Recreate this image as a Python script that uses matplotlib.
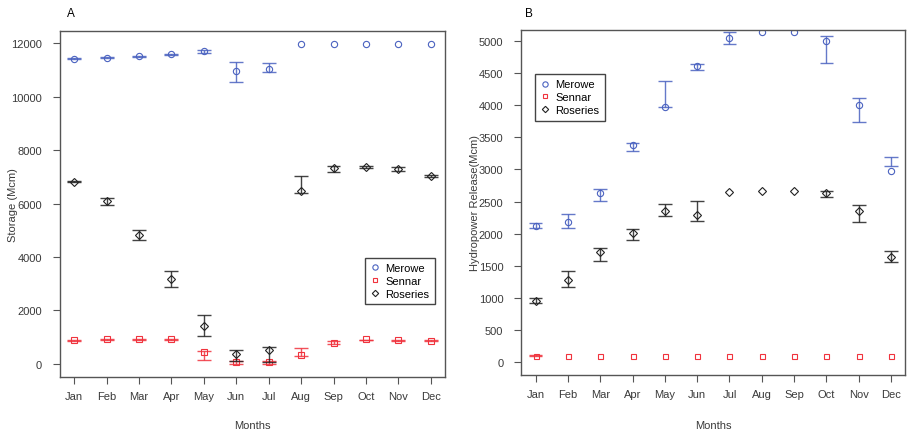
import numpy as np
import matplotlib
matplotlib.use('Agg')
import matplotlib.pyplot as plt

plt.rcParams['font.family'] = ['Liberation Sans', 'DejaVu Sans']

nan = np.nan
months = ['Jan', 'Feb', 'Mar', 'Apr', 'May', 'Jun', 'Jul', 'Aug', 'Sep', 'Oct', 'Nov', 'Dec']

# Panel A - storage (Mcm)
merowe_st = [11430, 11470, 11515, 11600, 11700, 10970, 11040, 11990, 11990, 11990, 11990, 11990]
merowe_st_lo = [11410, 11450, 11500, 11580, 11660, 10570, 10920, nan, nan, nan, nan, nan]
merowe_st_hi = [11450, 11490, 11530, 11620, 11740, 11300, 11265, nan, nan, nan, nan, nan]

sennar_st = [880, 906, 917, 917, 419, 45, 45, 330, 770, 930, 869, 854]
sennar_st_lo = [860, 890, 900, 900, 131, -10, -10, 270, 750, 880, 855, 835]
sennar_st_hi = [900, 920, 935, 935, 479, 105, 105, 569, 850, 900, 885, 875]

roseries_st = [6823, 6112, 4838, 3176, 1404, 356, 517, 6480, 7350, 7370, 7310, 7040]
roseries_st_lo = [6800, 5965, 4625, 2890, 1020, 94, 67, 6410, 7180, 7330, 7210, 7000]
roseries_st_hi = [6840, 6190, 5026, 3490, 1842, 517, 629, 7050, 7400, 7410, 7360, 7080]

# Panel B - hydropower release (Mcm)
merowe_rl = [2122, 2175, 2632, 3385, 3978, 4613, 5045, 5139, 5139, 5003, 4004, 2980]
merowe_rl_lo = [2081, 2081, 2502, 3282, 3969, 4551, 4956, nan, nan, 4664, 3735, 3048]
merowe_rl_hi = [2159, 2299, 2689, 3416, 4374, 4639, 5148, nan, nan, 5076, 4114, 3198]

sennar_rl = [95, 95, 95, 95, 95, 95, 95, 95, 95, 95, 95, 95]
sennar_rl_lo = [88, nan, nan, nan, nan, nan, nan, nan, nan, nan, nan, nan]
sennar_rl_hi = [102, nan, nan, nan, nan, nan, nan, nan, nan, nan, nan, nan]

roseries_rl = [942, 1279, 1707, 2003, 2351, 2289, 2652, 2657, 2657, 2632, 2351, 1629]
roseries_rl_lo = [911, 1161, 1566, 1898, 2278, 2190, nan, nan, nan, 2569, 2179, 1551]
roseries_rl_hi = [998, 1410, 1769, 2075, 2455, 2502, nan, nan, nan, 2658, 2440, 1727]

blue = '#4a62c0'
red = '#f0333d'
black = '#222222'
frame = '#555555'
x = np.arange(1, 13)


def bars(ax, mean, lo, hi, col, mk, ms, label):
    lo = np.array(lo, dtype=float)
    hi = np.array(hi, dtype=float)
    ok = ~np.isnan(lo)
    ax.vlines(x[ok], lo[ok], hi[ok], color=col, lw=1, alpha=0.85)
    ax.hlines(lo[ok], x[ok] - 0.215, x[ok] + 0.215, color=col, lw=1, alpha=0.85)
    ax.hlines(hi[ok], x[ok] - 0.215, x[ok] + 0.215, color=col, lw=1, alpha=0.85)
    ax.plot(x, mean, ls='none', marker=mk, ms=ms, mfc='none', mec=col, mew=0.8, label=label)


def style(ax, ylabel, ylab_x, xlab_y):
    ax.set_xlim(0.56, 12.44)
    ax.set_xticks(x)
    ax.set_xticklabels(months)
    for s in ax.spines.values():
        s.set_color(frame)
        s.set_linewidth(1)
    ax.tick_params(axis='x', length=5, width=0.8, color=frame, pad=5, labelsize=8, labelcolor='#3a3a3a')
    ax.tick_params(axis='y', length=5, width=0.8, color=frame, pad=8, labelsize=8, labelcolor='#3a3a3a')
    ax.set_xlabel('Months', fontsize=8, color='#3a3a3a')
    ax.set_ylabel(ylabel, fontsize=8, color='#3a3a3a')
    ax.xaxis.set_label_coords(0.5, xlab_y)
    ax.yaxis.set_label_coords(ylab_x, 0.5)


def legend(ax, loc, anchor):
    ax.legend(loc=loc, bbox_to_anchor=anchor, fontsize=8, fancybox=False,
              edgecolor='#444444', framealpha=1, handlelength=0.8, handletextpad=0.5,
              borderpad=0.5, labelspacing=0.25, borderaxespad=0, markerscale=0.85)


fig = plt.figure(figsize=(9.17, 4.35), dpi=100)
axA = fig.add_axes([0.0654, 0.131, 0.4199, 0.795])
axB = fig.add_axes([0.5685, 0.1363, 0.4188, 0.793])

bars(axA, merowe_st, merowe_st_lo, merowe_st_hi, blue, 'o', 4.5, 'Merowe')
bars(axA, sennar_st, sennar_st_lo, sennar_st_hi, red, 's', 4, 'Sennar')
bars(axA, roseries_st, roseries_st_lo, roseries_st_hi, black, 'D', 3.8, 'Roseries')
axA.set_ylim(-500, 12460)
axA.set_yticks([0, 2000, 4000, 6000, 8000, 10000, 12000])
style(axA, 'Storage (Mcm)', -0.108, -0.125)
legend(axA, 'upper right', (0.974, 0.345))

bars(axB, merowe_rl, merowe_rl_lo, merowe_rl_hi, blue, 'o', 4.5, 'Merowe')
bars(axB, sennar_rl, sennar_rl_lo, sennar_rl_hi, red, 's', 3.6, 'Sennar')
bars(axB, roseries_rl, roseries_rl_lo, roseries_rl_hi, black, 'D', 3.8, 'Roseries')
axB.set_ylim(-203, 5181)
axB.set_yticks(np.arange(0, 5001, 500))
style(axB, 'Hydropower Release(Mcm)', -0.108, -0.13)
legend(axB, 'upper left', (0.036, 0.872))

fig.text(67 / 917, 1 - 14 / 435, 'A', fontsize=8.5, va='center', ha='left')
fig.text(525 / 917, 1 - 14 / 435, 'B', fontsize=8.5, va='center', ha='left')

fig.savefig('out.png', dpi=100)
